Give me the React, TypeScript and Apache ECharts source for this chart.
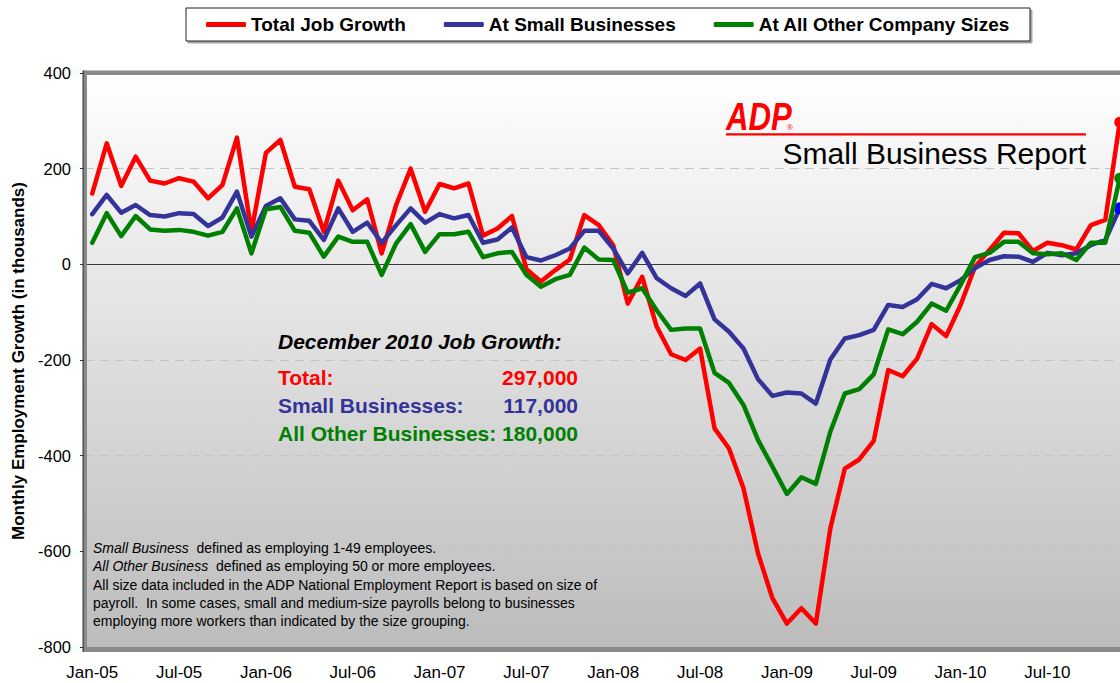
import React, { useEffect, useRef } from "react";
import * as echarts from "echarts";

const FONT = "'Liberation Sans', Arial, Helvetica, sans-serif";

const MONTHS = ["Jan", "Feb", "Mar", "Apr", "May", "Jun", "Jul", "Aug", "Sep", "Oct", "Nov", "Dec"];
const YEARS = ["05", "06", "07", "08", "09", "10"];
const categories = YEARS.flatMap((y) => MONTHS.map((m) => `${m}-${y}`));

const SERIES_NAMES = ["Total Job Growth", "At Small Businesses", "At All Other Company Sizes"];

const totalJobGrowth = [
  148, 253, 164, 225, 175, 169, 180, 173, 138, 166, 265, 68,
  233, 260, 162, 157, 68, 175, 113, 136, 23, 124, 200, 110,
  168, 159, 169, 60, 75, 101, -10, -36, -12, 10, 103, 82,
  40, -82, -26, -130, -188, -200, -176, -343, -385, -468, -604, -698,
  -751, -719, -751, -552, -427, -408, -369, -221, -234, -197, -125, -150,
  -85, -5, 30, 66, 65, 28, 45, 40, 31, 82, 93, 297,
];

const smallBusinesses = [
  105, 145, 108, 124, 103, 100, 107, 105, 80, 98, 152, 58,
  122, 138, 94, 91, 51, 117, 68, 87, 45, 82, 117, 87,
  105, 96, 103, 45, 52, 77, 15, 8, 19, 33, 70, 70,
  33, -19, 24, -29, -50, -66, -40, -115, -141, -176, -240, -275,
  -268, -270, -291, -199, -155, -148, -137, -85, -89, -73, -41, -50,
  -33, -8, 9, 17, 16, 5, 24, 19, 23, 40, 51, 117,
];

const otherCompanySizes = [
  45, 107, 59, 101, 73, 70, 72, 68, 60, 68, 117, 23,
  115, 120, 70, 66, 16, 58, 47, 47, -22, 44, 84, 26,
  63, 63, 68, 15, 23, 26, -22, -47, -31, -22, 35, 10,
  9, -59, -50, -96, -137, -134, -134, -227, -248, -294, -367, -423,
  -480, -445, -459, -350, -270, -261, -230, -136, -146, -120, -82, -97,
  -43, 15, 24, 47, 47, 23, 21, 23, 9, 45, 45, 180,
];

const Y_MIN = -800;
const Y_MAX = 400;
const Y_STEP = 200;

const LINE_COLORS = ["#ff0000", "#333399", "#008000"];
const END_MARKER_COLORS = ["#ff0000", "#0000ff", "#008000"];
const END_MARKER_SIZES = [11, 12, 11];

const HEADLINE = "December 2010 Job Growth:";
const SUMMARY_LABELS = ["Total:", "Small Businesses:", "All Other Businesses:"];
const SUMMARY_VALUES = ["297,000", "117,000", "180,000"];

const FOOTNOTES: string[] = [
  "{i|Small Business}  defined as employing 1-49 employees.",
  "{i|All Other Business}  defined as employing 50 or more employees.",
  "All size data included in the ADP National Employment Report is based on size of",
  "payroll.  In some cases, small and medium-size payrolls belong to businesses",
  "employing more workers than indicated by the size grouping.",
];

const Y_TITLE = "Monthly Employment Growth (in thousands)";

export default function App() {
  const ref = useRef<HTMLDivElement>(null);

  useEffect(() => {
    if (!ref.current) return;
    const chart = echarts.init(ref.current, null, { renderer: "svg" });
    const seriesValues = [totalJobGrowth, smallBusinesses, otherCompanySizes];
    const last = categories.length - 1;

    const series = seriesValues.map((vals, si) => ({
      name: SERIES_NAMES[si],
      type: "line",
      data: vals.map((v, i) =>
        i === last ? { value: v, itemStyle: { color: END_MARKER_COLORS[si] } } : v
      ),
      symbol: "circle",
      showSymbol: true,
      showAllSymbol: true,
      symbolSize: (_v: any, p: any) => (p.dataIndex === last ? END_MARKER_SIZES[si] : 0),
      lineStyle: { color: LINE_COLORS[si], width: 4.5, cap: "round", join: "round" },
      itemStyle: { color: LINE_COLORS[si] },
      z: 3 + si,
      markLine:
        si === 0
          ? {
              silent: true,
              symbol: "none",
              label: { show: false },
              lineStyle: { color: "#3a3a3a", width: 1, type: "solid" },
              data: [{ yAxis: 0 }],
              z: 1,
            }
          : undefined,
    }));

    const gradient = new echarts.graphic.LinearGradient(0, 0, 0, 1, [
      { offset: 0, color: "#ffffff" },
      { offset: 1, color: "#bcbcbc" },
    ]);

    const footnoteEls = FOOTNOTES.map((line, i) => ({
      type: "text",
      x: 93,
      y: 548 + i * 18.35,
      z: 50,
      style: {
        text: line,
        fill: "#000",
        fontSize: 14,
        fontFamily: FONT,
        verticalAlign: "middle",
        rich: { i: { fontStyle: "italic", fontSize: 14, fontFamily: FONT, fill: "#000" } },
      },
    }));

    const summaryEls: any[] = [];
    SUMMARY_LABELS.forEach((lab, i) => {
      const y = 377 + i * 28.4;
      summaryEls.push({
        type: "text",
        x: 278,
        y,
        z: 50,
        style: {
          text: lab,
          fill: LINE_COLORS[i],
          fontSize: 21,
          fontWeight: "bold",
          fontFamily: FONT,
          verticalAlign: "middle",
        },
      });
      summaryEls.push({
        type: "text",
        x: 578,
        y,
        z: 50,
        style: {
          text: SUMMARY_VALUES[i],
          fill: LINE_COLORS[i],
          fontSize: 21,
          fontWeight: "bold",
          fontFamily: FONT,
          align: "right",
          verticalAlign: "middle",
        },
      });
    });

    const option: any = {
      animation: false,
      textStyle: { fontFamily: FONT },
      legend: {
        left: 186,
        top: 8,
        padding: [7, 20, 7, 20],
        itemWidth: 40,
        itemHeight: 5,
        itemGap: 38,
        icon: "roundRect",
        borderColor: "#222",
        borderWidth: 1,
        backgroundColor: "#fff",
        shadowColor: "rgba(0,0,0,0.35)",
        shadowOffsetX: 2,
        shadowOffsetY: 2,
        shadowBlur: 0,
        selectedMode: false,
        textStyle: { fontSize: 19, fontWeight: "bold", color: "#000", fontFamily: FONT },
        data: SERIES_NAMES,
      },
      grid: {
        left: 85,
        top: 73,
        right: 0,
        bottom: 36,
        show: true,
        borderWidth: 0,
        backgroundColor: gradient,
      },
      xAxis: {
        type: "category",
        data: categories,
        boundaryGap: true,
        axisLine: { show: false },
        axisTick: { show: false },
        splitLine: { show: false },
        axisLabel: { interval: 5, fontSize: 17, color: "#000", margin: 17, fontFamily: FONT },
      },
      yAxis: {
        type: "value",
        min: Y_MIN,
        max: Y_MAX,
        interval: Y_STEP,
        axisLine: { show: false },
        axisTick: { show: true, length: 5, lineStyle: { color: "#333", width: 1 } },
        axisLabel: { fontSize: 16.5, color: "#000", margin: 14, fontFamily: FONT },
        splitLine: { show: true, lineStyle: { color: "#c4c4c4", type: [9, 6], width: 1 } },
      },
      series,
      graphic: [
        // plot frame
        { type: "rect", z: 40, shape: { x: 83, y: 70.5, width: 1050, height: 4.5 }, style: { fill: "#8a8a8a" } },
        { type: "rect", z: 40, shape: { x: 83, y: 647, width: 1050, height: 5 }, style: { fill: "#8a8a8a" } },
        { type: "rect", z: 40, shape: { x: 83.5, y: 70.5, width: 3.5, height: 581.5 }, style: { fill: "#8a8a8a" } },
        { type: "rect", z: 41, shape: { x: 82.5, y: 70.5, width: 1.3, height: 581.5 }, style: { fill: "#3a3a3a" } },
        // y title
        {
          type: "text",
          x: 18,
          y: 361,
          rotation: Math.PI / 2,
          z: 50,
          style: {
            text: Y_TITLE,
            fill: "#000",
            fontSize: 17,
            fontWeight: "bold",
            fontFamily: FONT,
            align: "center",
            verticalAlign: "middle",
          },
        },
        // ADP logo
        {
          type: "text",
          x: 726,
          y: 116,
          scaleX: 0.8,
          z: 50,
          style: {
            text: "ADP",
            fill: "#ff0000",
            stroke: "#ffffff",
            lineWidth: 0.8,
            fontSize: 39,
            fontWeight: 900,
            fontStyle: "italic",
            fontFamily: FONT,
            verticalAlign: "middle",
          },
        },
        {
          type: "text",
          x: 787,
          y: 127,
          z: 50,
          style: { text: "®", fill: "#ff0000", fontSize: 8, fontFamily: FONT, verticalAlign: "middle" },
        },
        {
          type: "line",
          z: 50,
          shape: { x1: 726, y1: 134.3, x2: 1086, y2: 134.3 },
          style: { stroke: "#ff0000", lineWidth: 2.2 },
        },
        {
          type: "text",
          x: 1086,
          y: 153,
          z: 50,
          style: {
            text: "Small Business Report",
            fill: "#000",
            fontSize: 30,
            fontFamily: FONT,
            align: "right",
            verticalAlign: "middle",
          },
        },
        // summary
        {
          type: "text",
          x: 278,
          y: 341,
          z: 50,
          style: {
            text: HEADLINE,
            fill: "#000",
            fontSize: 21,
            fontWeight: "bold",
            fontStyle: "italic",
            fontFamily: FONT,
            verticalAlign: "middle",
          },
        },
        ...summaryEls,
        ...footnoteEls,
      ],
    };

    chart.setOption(option);
    return () => chart.dispose();
  }, []);

  return (
    <div
      style={{
        position: "absolute",
        left: 0,
        top: 0,
        width: 1120,
        height: 683,
        overflow: "hidden",
        background: "#fff",
      }}
    >
      <div ref={ref} style={{ width: 1127, height: 683 }} />
    </div>
  );
}
